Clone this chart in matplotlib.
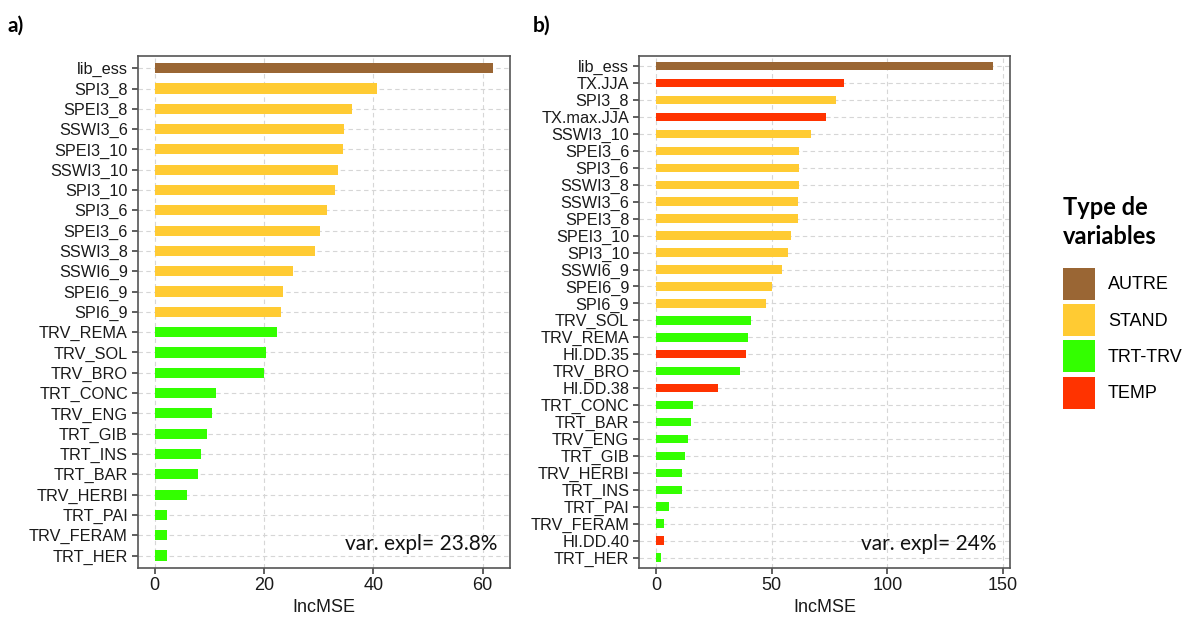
import numpy as np
import matplotlib
matplotlib.use("Agg")
import matplotlib.pyplot as plt
from matplotlib.patches import Patch

# ---- data ----
type_names = ["AUTRE", "STAND", "TRT-TRV", "TEMP"]
type_colors = ["#9A6634", "#FFCB33", "#33FF00", "#FF3300"]

vars_a = ["lib_ess", "SPI3_8", "SPEI3_8", "SSWI3_6", "SPEI3_10", "SSWI3_10",
          "SPI3_10", "SPI3_6", "SPEI3_6", "SSWI3_8", "SSWI6_9", "SPEI6_9",
          "SPI6_9", "TRV_REMA", "TRV_SOL", "TRV_BRO", "TRT_CONC", "TRV_ENG",
          "TRT_GIB", "TRT_INS", "TRT_BAR", "TRV_HERBI", "TRT_PAI",
          "TRV_FERAM", "TRT_HER"]
incmse_a = [61.9, 40.6, 36.1, 34.7, 34.4, 33.5, 33.0, 31.6, 30.2, 29.3, 25.3,
            23.5, 23.1, 22.4, 20.4, 20.0, 11.3, 10.5, 9.6, 8.4, 7.9, 6.0, 2.3,
            2.3, 2.2]
types_a = ["AUTRE"] + ["STAND"] * 12 + ["TRT-TRV"] * 12

vars_b = ["lib_ess", "TX.JJA", "SPI3_8", "TX.max.JJA", "SSWI3_10", "SPEI3_6",
          "SPI3_6", "SSWI3_8", "SSWI3_6", "SPEI3_8", "SPEI3_10", "SPI3_10",
          "SSWI6_9", "SPEI6_9", "SPI6_9", "TRV_SOL", "TRV_REMA", "HI.DD.35",
          "TRV_BRO", "HI.DD.38", "TRT_CONC", "TRT_BAR", "TRV_ENG", "TRT_GIB",
          "TRV_HERBI", "TRT_INS", "TRT_PAI", "TRV_FERAM", "HI.DD.40",
          "TRT_HER"]
incmse_b = [145.7, 81.5, 77.7, 73.6, 67.1, 61.8, 61.8, 61.8, 61.2, 61.2, 58.6,
            56.9, 54.6, 50.1, 47.7, 40.9, 39.7, 38.9, 36.2, 26.7, 15.9, 15.1,
            14.1, 12.5, 11.5, 11.5, 5.5, 3.4, 3.4, 2.2]
types_b = ["AUTRE", "TEMP", "STAND", "TEMP"] + ["STAND"] * 11 + \
          ["TRT-TRV", "TRT-TRV", "TEMP", "TRT-TRV", "TEMP"] + \
          ["TRT-TRV"] * 8 + ["TEMP", "TRT-TRV"]

xticks_a = [0, 20, 40, 60]
xticks_b = [0, 50, 100, 150]
var_expl_a = "var. expl= 23.8%"
var_expl_b = "var. expl= 24%"

plt.rcParams['font.family'] = ['Liberation Sans', 'DejaVu Sans']
color_of = dict(zip(type_names, type_colors))


def draw_panel(ax, names, values, types, xticks, note):
    n = len(names)
    y = np.arange(n)
    cols = [color_of[t] for t in types]
    ax.barh(y, values, height=0.5, color=cols, zorder=3)
    ax.set_ylim(n - 1 + 0.6, -0.6)
    xmax = max(values)
    ax.set_xlim(-0.05 * xmax, 1.05 * xmax)
    ax.set_yticks(y)
    ax.set_yticklabels(names, fontsize=11.7, color="#1a1a1a")
    ax.set_xticks(xticks)
    ax.set_xticklabels([str(t) for t in xticks], fontsize=13, color="#1a1a1a")
    ax.tick_params(axis="both", length=4, width=1.2, color="#444444", pad=3)
    ax.grid(True, color="#d6d6d6", linestyle=(0, (4, 3)), linewidth=0.8, zorder=0)
    for s in ax.spines.values():
        s.set_color("#555555")
        s.set_linewidth(1.2)
    ax.set_xlabel("IncMSE", fontsize=13, color="#1a1a1a", labelpad=3)
    ax.text(0.965, 0.035, note, transform=ax.transAxes, ha="right",
            va="baseline", fontsize=15, family=["Lato", "DejaVu Sans"],
            color="#111111", zorder=5)


fig = plt.figure(figsize=(11.91, 6.21), dpi=100)
ax_a = fig.add_axes([0.1156, 0.0858, 0.3126, 0.824])
ax_b = fig.add_axes([0.5365, 0.0858, 0.3115, 0.824])

draw_panel(ax_a, vars_a, incmse_a, types_a, xticks_a, var_expl_a)
draw_panel(ax_b, vars_b, incmse_b, types_b, xticks_b, var_expl_b)

fig.text(0.006, 0.958, "a)", fontsize=15, fontweight="bold", va="center",
         family=["Lato", "DejaVu Sans"])
fig.text(0.447, 0.958, "b)", fontsize=15, fontweight="bold", va="center",
         family=["Lato", "DejaVu Sans"])

# legend keys ~32 px square with small gaps, as in the ggplot guide
handles = [Patch(facecolor=c, edgecolor="none") for c in type_colors]
leg = fig.legend(handles, type_names, loc="upper left",
                 bbox_to_anchor=(0.8925, 0.685), frameon=False, fontsize=13,
                 title="Type de\nvariables", handlelength=1.8,
                 handleheight=2.35, labelspacing=0.24, handletextpad=0.7,
                 borderaxespad=0, borderpad=0)
leg.get_title().set_fontsize(17)
leg.get_title().set_fontweight("bold")
leg.get_title().set_family(["Lato", "DejaVu Sans"])
leg.get_title().set_linespacing(1.35)
leg._legend_box.align = "left"
leg._legend_box.sep = 14

fig.savefig("out.png", dpi=100)
